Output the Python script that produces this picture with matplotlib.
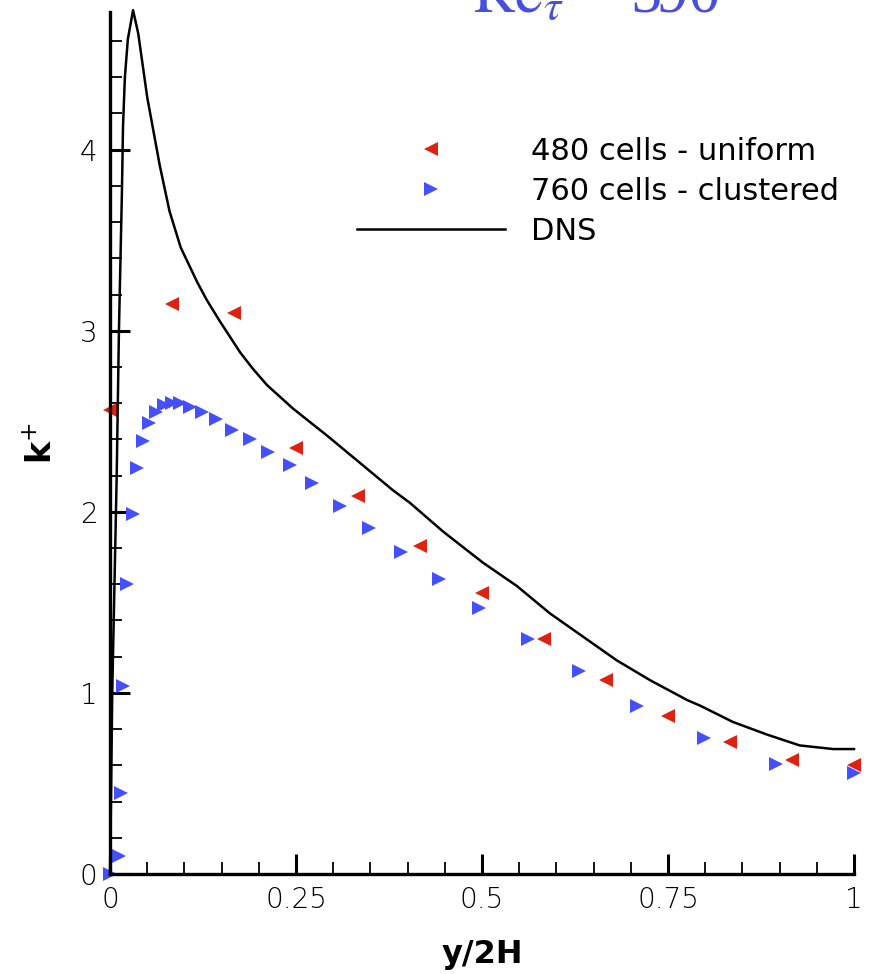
import matplotlib

matplotlib.use('Agg')
import matplotlib.pyplot as plt
from matplotlib.ticker import MultipleLocator, FixedLocator, FixedFormatter

# DNS profile (y/2H, k+)
dns_x = [0.0, 0.001, 0.003, 0.006, 0.009, 0.012, 0.016, 0.0175, 0.020, 0.024, 0.031, 0.038,
         0.050, 0.067, 0.080, 0.095, 0.117, 0.130, 0.148, 0.175, 0.192, 0.211, 0.246, 0.292,
         0.336, 0.380, 0.403, 0.448, 0.501, 0.547, 0.591, 0.636, 0.681, 0.726, 0.776, 0.793,
         0.837, 0.883, 0.927, 0.972, 1.0]
dns_k = [0.0, 0.3, 1.0, 1.6, 2.2, 3.0, 3.76, 4.13, 4.40, 4.61, 4.77, 4.64,
         4.29, 3.91, 3.66, 3.46, 3.27, 3.17, 3.05, 2.88, 2.79, 2.70, 2.57, 2.42,
         2.27, 2.12, 2.05, 1.89, 1.72, 1.59, 1.44, 1.31, 1.18, 1.07, 0.96, 0.93,
         0.84, 0.77, 0.71, 0.69, 0.69]

# 480 cells - uniform
uni_x = [0.0, 0.083, 0.166, 0.25, 0.333, 0.416, 0.5, 0.583, 0.666, 0.75, 0.833, 0.916, 1.0]
uni_k = [2.56, 3.15, 3.10, 2.35, 2.09, 1.81, 1.55, 1.30, 1.07, 0.87, 0.73, 0.63, 0.60]

# 760 cells - clustered
clu_x = [0.0, 0.012, 0.015, 0.017, 0.023, 0.031, 0.036, 0.045, 0.053, 0.062, 0.072, 0.083,
         0.094, 0.107, 0.124, 0.143, 0.164, 0.188, 0.212, 0.242, 0.271, 0.309, 0.348, 0.391,
         0.442, 0.496, 0.562, 0.631, 0.709, 0.798, 0.895, 1.0]
clu_k = [0.0, 0.10, 0.45, 1.04, 1.60, 1.99, 2.24, 2.39, 2.49, 2.55, 2.59, 2.60,
         2.60, 2.58, 2.55, 2.51, 2.45, 2.40, 2.33, 2.26, 2.16, 2.03, 1.91, 1.78,
         1.63, 1.47, 1.30, 1.12, 0.93, 0.75, 0.61, 0.56]

x_ticks = [0, 0.25, 0.5, 0.75, 1]
x_tick_labels = ['0', '0.25', '0.5', '0.75', '1']
y_ticks = [0, 1, 2, 3, 4]
y_tick_labels = ['0', '1', '2', '3', '4']

RED = '#dd2211'
BLUE = '#4450ff'


def main():
    plt.rcParams['font.family'] = ['DejaVu Sans']

    fig = plt.figure(figsize=(8.71, 9.74), dpi=100)
    ax = fig.add_axes([110 / 871, 100 / 974, 744 / 871, 862 / 974])

    ax.plot(uni_x, uni_k, linestyle='none', marker='<', markersize=10, color=RED,
            markeredgewidth=0, clip_on=False, label='480 cells - uniform')
    ax.plot(clu_x, clu_k, linestyle='none', marker='>', markersize=10, color=BLUE,
            markeredgewidth=0, clip_on=False, label='760 cells - clustered')
    ax.plot(dns_x, dns_k, color='black', linewidth=1.8, clip_on=False, label='DNS')

    ax.set_xlim(0, 1)
    ax.set_ylim(0, 4.76)

    for side in ['top', 'right']:
        ax.spines[side].set_visible(False)
    for side in ['left', 'bottom']:
        ax.spines[side].set_linewidth(2.4)

    ax.xaxis.set_major_locator(FixedLocator(x_ticks))
    ax.xaxis.set_major_formatter(FixedFormatter(x_tick_labels))
    ax.xaxis.set_minor_locator(MultipleLocator(0.05))
    ax.yaxis.set_major_locator(FixedLocator(y_ticks))
    ax.yaxis.set_major_formatter(FixedFormatter(y_tick_labels))
    ax.yaxis.set_minor_locator(MultipleLocator(0.2))

    ax.tick_params(which='major', direction='in', length=14.5, width=2.2, labelsize=20)
    ax.tick_params(which='minor', direction='in', length=8.5, width=1.3)
    ax.tick_params(axis='x', which='major', pad=9)
    ax.tick_params(axis='y', which='major', pad=9)
    for lbl in ax.get_xticklabels() + ax.get_yticklabels():
        lbl.set_fontweight('light')

    ax.set_xlabel('y/2H', fontsize=23, fontweight='bold', labelpad=18)
    ax.set_ylabel(r'k$^{+}$', fontsize=24, fontweight='bold', labelpad=15)

    ax.legend(loc='upper left', bbox_to_anchor=(357 / 871, 837 / 974), bbox_transform=fig.transFigure,
              frameon=False, fontsize=22, handlelength=4.85, handletextpad=0.85, labelspacing=0.36,
              borderpad=0, borderaxespad=0, numpoints=1)

    fig.text(473 / 871, 962 / 974, r'$\mathrm{Re}_{\tau}$ = 590', family='Liberation Serif',
             math_fontfamily='stix', fontsize=45, color='#4650dc', ha='left', va='baseline')

    fig.savefig('out.png', dpi=100)


if __name__ == '__main__':
    main()
